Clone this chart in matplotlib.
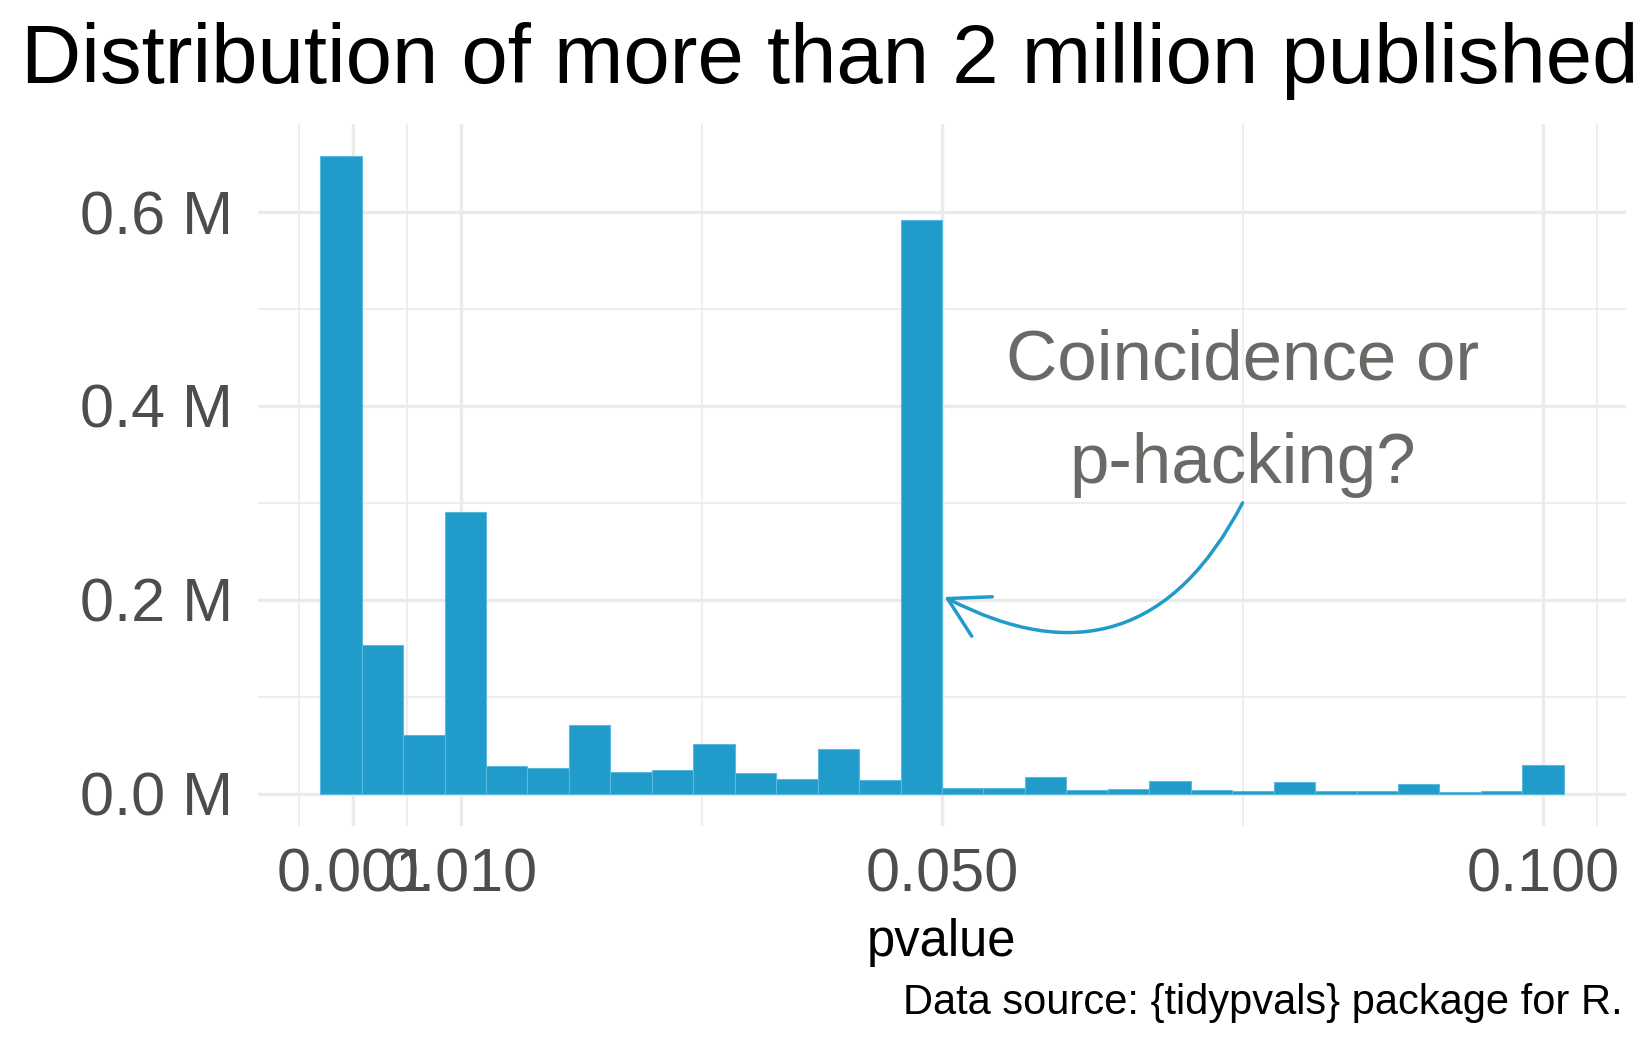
import numpy as np
import matplotlib
matplotlib.use('Agg')
import matplotlib.pyplot as plt
from matplotlib.patches import FancyArrowPatch
from matplotlib.ticker import FuncFormatter

# ── Data ──────────────────────────────────────────────────────────────────────
# counts per bin in millions; 30 bins (ggplot bins=30 over 0..0.1)
counts = [0.658, 0.153, 0.061, 0.291, 0.029, 0.027, 0.071, 0.022, 0.024, 0.051,
          0.021, 0.015, 0.046, 0.014, 0.592, 0.006, 0.006, 0.017, 0.004, 0.005,
          0.013, 0.004, 0.003, 0.012, 0.003, 0.003, 0.010, 0.002, 0.003, 0.030]
pmin, pmax = 0.0, 0.1

x_breaks = [0.001, 0.010, 0.050, 0.100]
x_labels = ['0.001', '0.010', '0.050', '0.100']
x_minor = [-0.0035, 0.0055, 0.030, 0.075, 0.1045]
y_breaks = [0.0, 0.2, 0.4, 0.6]
y_minor = [0.1, 0.3, 0.5]

title = 'Distribution of more than 2 million published'
xlab = 'pvalue'
caption = 'Data source: {tidypvals} package for R.'
note = ['Coincidence or', 'p-hacking?']
note_x = 0.075
arrow_from = (0.075, 0.300)
arrow_to = (0.0502, 0.203)

BLUE = '#219bca'
EDGE = '#5cb9de'
GRID = '#ebebeb'
TICK = '#4d4d4d'
NOTE = '#696966'
FONT = 'Liberation Sans'

plt.rcParams['font.family'] = FONT

# ── Bins ──────────────────────────────────────────────────────────────────────
n = len(counts)
bw = (pmax - pmin) / (n - 1)
centers = pmin + bw * np.arange(n)

# ── Figure ────────────────────────────────────────────────────────────────────
W, H = 1649, 1049
fig = plt.figure(figsize=(W / 100, H / 100), dpi=100)
ax = fig.add_axes([258 / W, 1 - 825.6 / H, (1626 - 258) / W, (825.6 - 124) / H])

ax.bar(centers, counts, width=bw, color=BLUE, edgecolor=EDGE, linewidth=0.8, zorder=2)

lo, hi = centers[0] - bw / 2, centers[-1] + bw / 2
ax.set_xlim(lo - 0.05 * (hi - lo), hi + 0.05 * (hi - lo))
top = max(counts)
ax.set_ylim(-0.05 * top, 1.05 * top)

ax.set_xticks(x_breaks)
ax.set_xticklabels(x_labels)
ax.set_xticks(x_minor, minor=True)
ax.set_yticks(y_breaks)
ax.set_yticks(y_minor, minor=True)
ax.yaxis.set_major_formatter(FuncFormatter(lambda v, _: f'{v:.1f} M'))

ax.grid(which='major', color=GRID, linewidth=2.4, zorder=0)
ax.grid(which='minor', color=GRID, linewidth=1.2, zorder=0)
ax.set_axisbelow(True)
for s in ax.spines.values():
    s.set_visible(False)

ax.tick_params(which='both', length=0, labelsize=44, labelcolor=TICK)
ax.tick_params(axis='x', pad=16)
ax.tick_params(axis='y', pad=18)

ax.set_xlabel(xlab, fontsize=36.5, color='black')
ax.xaxis.set_label_coords(0.5, -0.1317)

# ── Annotation ────────────────────────────────────────────────────────────────
ax.text(note_x, 0.4275, note[0], ha='center', va='baseline', fontsize=51, color=NOTE, zorder=3)
ax.text(note_x, 0.3206, note[1], ha='center', va='baseline', fontsize=51, color=NOTE, zorder=3)

arr = FancyArrowPatch(arrow_from, arrow_to, connectionstyle='arc3,rad=-0.5',
                      arrowstyle='->,head_length=28,head_width=16',
                      mutation_scale=1, shrinkA=0, shrinkB=0,
                      color=BLUE, linewidth=2.5, zorder=4)
ax.add_patch(arr)

# ── Title & caption ───────────────────────────────────────────────────────────
fig.text(21 / W, 1 - 83.3 / H, title, fontsize=60, color='black', va='baseline', ha='left')
fig.text(1623 / W, 1 - 1014 / H, caption, fontsize=30, color='black', va='baseline', ha='right')

fig.savefig('out.png', dpi=100)
